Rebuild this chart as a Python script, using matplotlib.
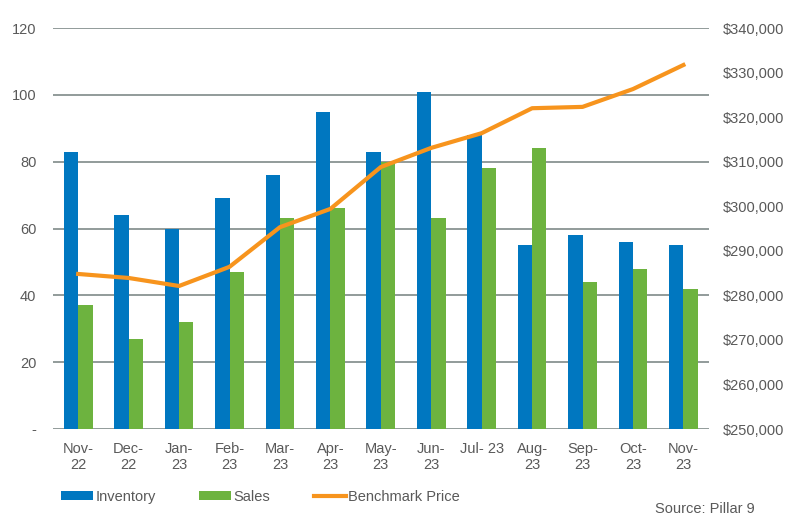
import numpy as np
import matplotlib.pyplot as plt
from matplotlib.ticker import FuncFormatter, MultipleLocator

plt.rcParams['font.family'] = ['Liberation Sans', 'DejaVu Sans']

months = ["Nov-\n22", "Dec-\n22", "Jan-\n23", "Feb-\n23", "Mar-\n23", "Apr-\n23",
          "May-\n23", "Jun-\n23", "Jul- 23", "Aug-\n23", "Sep-\n23", "Oct-\n23", "Nov-\n23"]
inventory = [83, 64, 60, 69, 76, 95, 83, 101, 88, 55, 58, 56, 55]
sales = [37, 27, 32, 47, 63, 66, 80, 63, 78, 84, 44, 48, 42]
benchmark = [284800, 283900, 282100, 286400, 295300, 299400, 308800,
             313100, 316400, 322000, 322300, 326300, 331700]

BLUE = "#0077C0"
GREEN = "#6DB33F"
ORANGE = "#F7941D"
TXT = "#595959"
GRID = "#7F8A89"

fig = plt.figure(figsize=(7.98, 5.19), dpi=100)
ax = fig.add_axes([0.0664, 0.1734, 0.8216, 0.7726])
x = np.arange(len(months))
w = 0.285

ax.bar(x - w / 2, inventory, width=w, color=BLUE, label="Inventory", zorder=2)
ax.bar(x + w / 2, sales, width=w, color=GREEN, label="Sales", zorder=2)
ax.set_ylim(0, 120)
ax.set_xlim(-0.5, len(months) - 0.5)
ax.yaxis.set_major_locator(MultipleLocator(20))
ax.yaxis.set_major_formatter(FuncFormatter(lambda v, p: "-" if v == 0 else f"{v:.0f}"))
ax.grid(axis="y", color=GRID, linewidth=1.2, zorder=0)
ax.set_xticks(x)
ax.set_xticklabels(months)
for s in ax.spines.values():
    s.set_visible(False)
ax.tick_params(length=0, colors=TXT, labelsize=10.5)
ax.tick_params(axis="y", pad=12)
ax.tick_params(axis="x", pad=9.5)

ax2 = ax.twinx()
ax2.plot(x, benchmark, color=ORANGE, linewidth=3, label="Benchmark Price", zorder=3)
ax2.set_ylim(250000, 340000)
ax2.yaxis.set_major_locator(MultipleLocator(10000))
ax2.yaxis.set_major_formatter(FuncFormatter(lambda v, p: f"${v:,.0f}"))
for s in ax2.spines.values():
    s.set_visible(False)
ax2.tick_params(length=0, colors=TXT, labelsize=10.5, pad=10)

h1, l1 = ax.get_legend_handles_labels()
h2, l2 = ax2.get_legend_handles_labels()
fig.legend(h1 + h2, l1 + l2, loc="lower left", bbox_to_anchor=(0.06, 0.004), ncol=3,
           frameon=False, fontsize=10.5, labelcolor=TXT, handlelength=2.2,
           handleheight=0.6, handletextpad=0.15, columnspacing=3.0)
fig.text(0.946, 0.005, "Source: Pillar 9", ha="right", va="bottom", color=TXT, fontsize=10.5)

fig.savefig("out.png", dpi=100)
